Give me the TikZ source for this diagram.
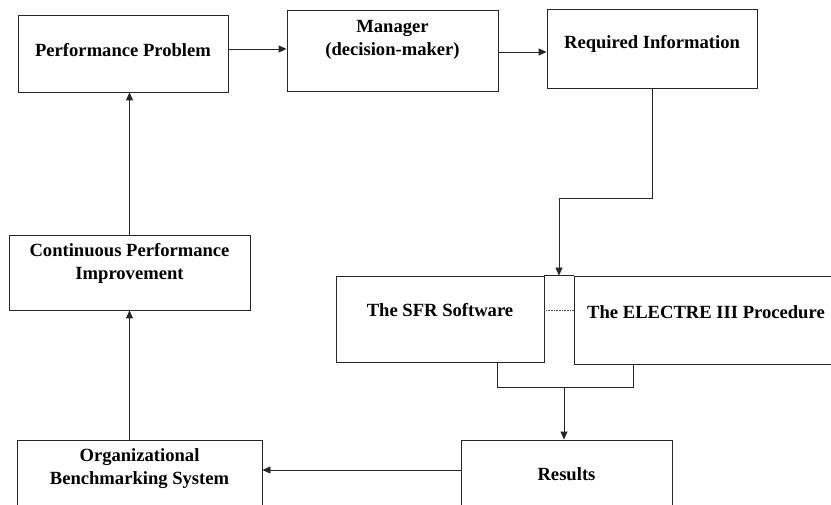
\documentclass[tikz,border=0pt]{standalone}
\usepackage{fontspec}
\setmainfont{Liberation Serif}
\usetikzlibrary{arrows.meta,calc}
\tikzset{
  box/.style={draw=black!85, line width=0.9pt, inner sep=0pt, rectangle},
  lbl/.style={font=\bfseries\fontsize{18.6}{23}\selectfont, align=center, inner sep=0pt},
  arr/.style={draw=black!85, line width=0.9pt, -{Triangle[length=8pt,width=7pt]}},
  ln/.style={draw=black!85, line width=0.9pt},
}
\begin{document}
\begin{tikzpicture}[x=1pt,y=-1pt]
\useasboundingbox (0,0) rectangle (831,505);
\fill[white] (0,0) rectangle (831,505);
\clip (0,0) rectangle (831,505);
% boxes
\node[box, minimum width=210, minimum height=77] (pp) at (123,53.5) {};
\node[box, minimum width=211, minimum height=81] (mgr) at (392.5,50.5) {};
\node[box, minimum width=210, minimum height=79] (ri) at (652,48.5) {};
\node[box, minimum width=241, minimum height=75] (cpi) at (129.5,272.5) {};
\node[box, minimum width=208, minimum height=86] (sfr) at (440,319) {};
\node[box, minimum width=266, minimum height=88] (el) at (707,320) {};
\node[box, minimum width=211, minimum height=90] (res) at (566.5,485) {};
\node[box, minimum width=245, minimum height=90] (ob) at (139.5,485) {};
% texts
\node[lbl] (ppt) at (123,50) {Performance Problem};
\node[lbl] (mgrt) at (392.5,40) {Manager\\(decision-maker)};
\node[lbl] (rit) at (652,44) {Required Information};
\node[lbl] (cpit) at (129.5,263.5) {Continuous Performance\\Improvement};
\node[lbl] (sfrt) at (440,310) {The SFR Software};
\node[lbl] (elt) at (706,312) {The ELECTRE III Procedure};
\node[lbl] (rest) at (566.5,474) {Results};
\node[lbl] (obt) at (139.5,469) {Organizational\\Benchmarking System};
% helper coordinates
\coordinate (c1) at (559,198);
\coordinate (b1) at (497,387);
\coordinate (b2) at (633,387);
\coordinate (b3) at (564,387);
\coordinate (r1) at (0,470);
\coordinate (a1) at (0,49);
\coordinate (a2) at (0,52);
% connectors
\draw[arr] (pp.east |- a1) -- (mgr.west |- a1);
\draw[arr] (mgr.east |- a2) -- (ri.west |- a2);
\draw[arr] (ri.south) |- (c1) -- (c1 |- sfr.north);
\draw[ln] (sfr.north east) -- (el.north west);
\draw[densely dotted, line width=0.6pt, black!70] (sfr.east |- sfrt) -- (el.west |- sfrt);
\draw[ln] (b1 |- sfr.south) -- (b1) -- (b2) -- (b2 |- el.south);
\draw[arr] (b3) -- (b3 |- res.north);
\draw[arr] (res.west |- r1) -- (ob.east |- r1);
\draw[arr] (cpi.south |- ob.north) -- (cpi.south);
\draw[arr] (cpi.north) -- (cpi.north |- pp.south);
\end{tikzpicture}
\end{document}
